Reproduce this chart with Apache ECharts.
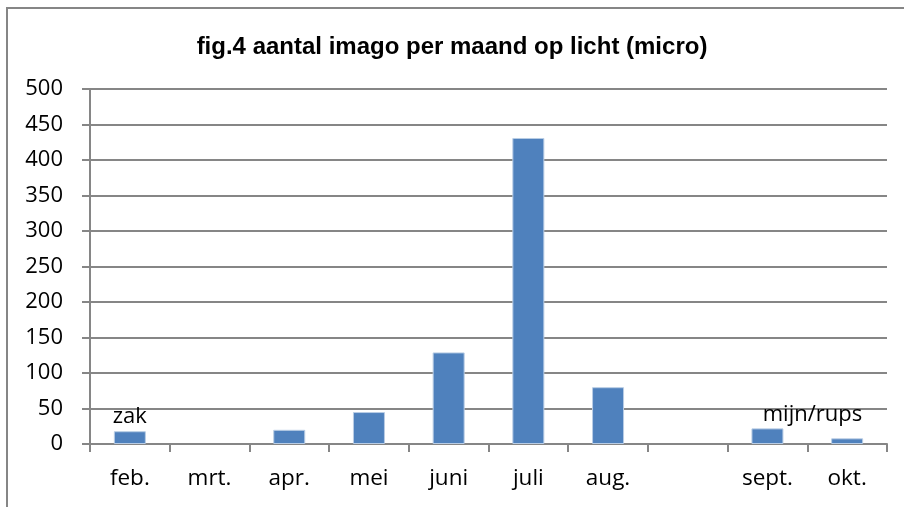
<!DOCTYPE html>
<html>
<head>
<meta charset="utf-8">
<script src="https://cdn.jsdelivr.net/npm/echarts@6/dist/echarts.min.js"></script>
<style>
  html, body { margin: 0; padding: 0; background: #fff; }
  #chart { width: 904px; height: 507px; }
</style>
</head>
<body>
<div id="chart"></div>
<script>
// data
const months = ["feb.", "mrt.", "apr.", "mei", "juni", "juli", "aug.", "", "sept.", "okt."];
const counts = [18, 0, 20, 45, 129, 431, 80, 0, 22, 8];
const notes = ["zak", "", "", "", "", "", "", "", "mijn/rups", ""];
const noteOffsets = [[0, 0], [0, 0], [0, 0], [0, 0], [0, 0], [0, 0], [0, 0], [0, 0], [45, 0], [0, 0]];

const chart = echarts.init(document.getElementById("chart"));
const font = "Open Sans";

const barData = counts.map((v, i) => {
  const item = { value: v };
  // empty months have no bar at all, so no edge either
  if (v === 0) item.itemStyle = { borderWidth: 0 };
  if (notes[i]) {
    item.label = {
      show: true,
      position: "top",
      formatter: notes[i],
      offset: noteOffsets[i],
      color: "#000",
      fontFamily: font,
      fontSize: 22,
      distance: 3
    };
  }
  return item;
});

chart.setOption({
  animation: false,
  title: {
    text: "fig.4 aantal imago per maand op licht (micro)",
    left: "center",
    top: 30,
    textStyle: { fontFamily: "Liberation Sans", fontWeight: "bold", fontSize: 24, color: "#000" }
  },
  graphic: [{
    type: "rect",
    shape: { x: 7, y: 8, width: 1000, height: 1000 },
    style: { fill: "none", stroke: "#868686", lineWidth: 2 },
    silent: true
  }],
  grid: { left: 90, right: 17, top: 89, bottom: 63 },
  xAxis: {
    type: "category",
    data: months,
    axisLine: { lineStyle: { color: "#868686", width: 2 } },
    axisTick: { show: true, length: 8, lineStyle: { color: "#868686", width: 2 } },
    axisLabel: { color: "#000", fontFamily: font, fontSize: 22.5, margin: 23, interval: 0 }
  },
  yAxis: {
    type: "value",
    min: 0,
    max: 500,
    interval: 50,
    axisLine: { show: true, lineStyle: { color: "#868686", width: 2 } },
    axisTick: { show: true, length: 8, lineStyle: { color: "#868686", width: 2 } },
    axisLabel: { color: "#000", fontFamily: font, fontSize: 22, margin: 27 },
    splitLine: { lineStyle: { color: "#868686", width: 2 } }
  },
  series: [{
    type: "bar",
    data: barData,
    barWidth: 32,
    itemStyle: { color: "#4f81bd", borderColor: "#b9cde5", borderWidth: 1 }
  }]
});
</script>
</body>
</html>
